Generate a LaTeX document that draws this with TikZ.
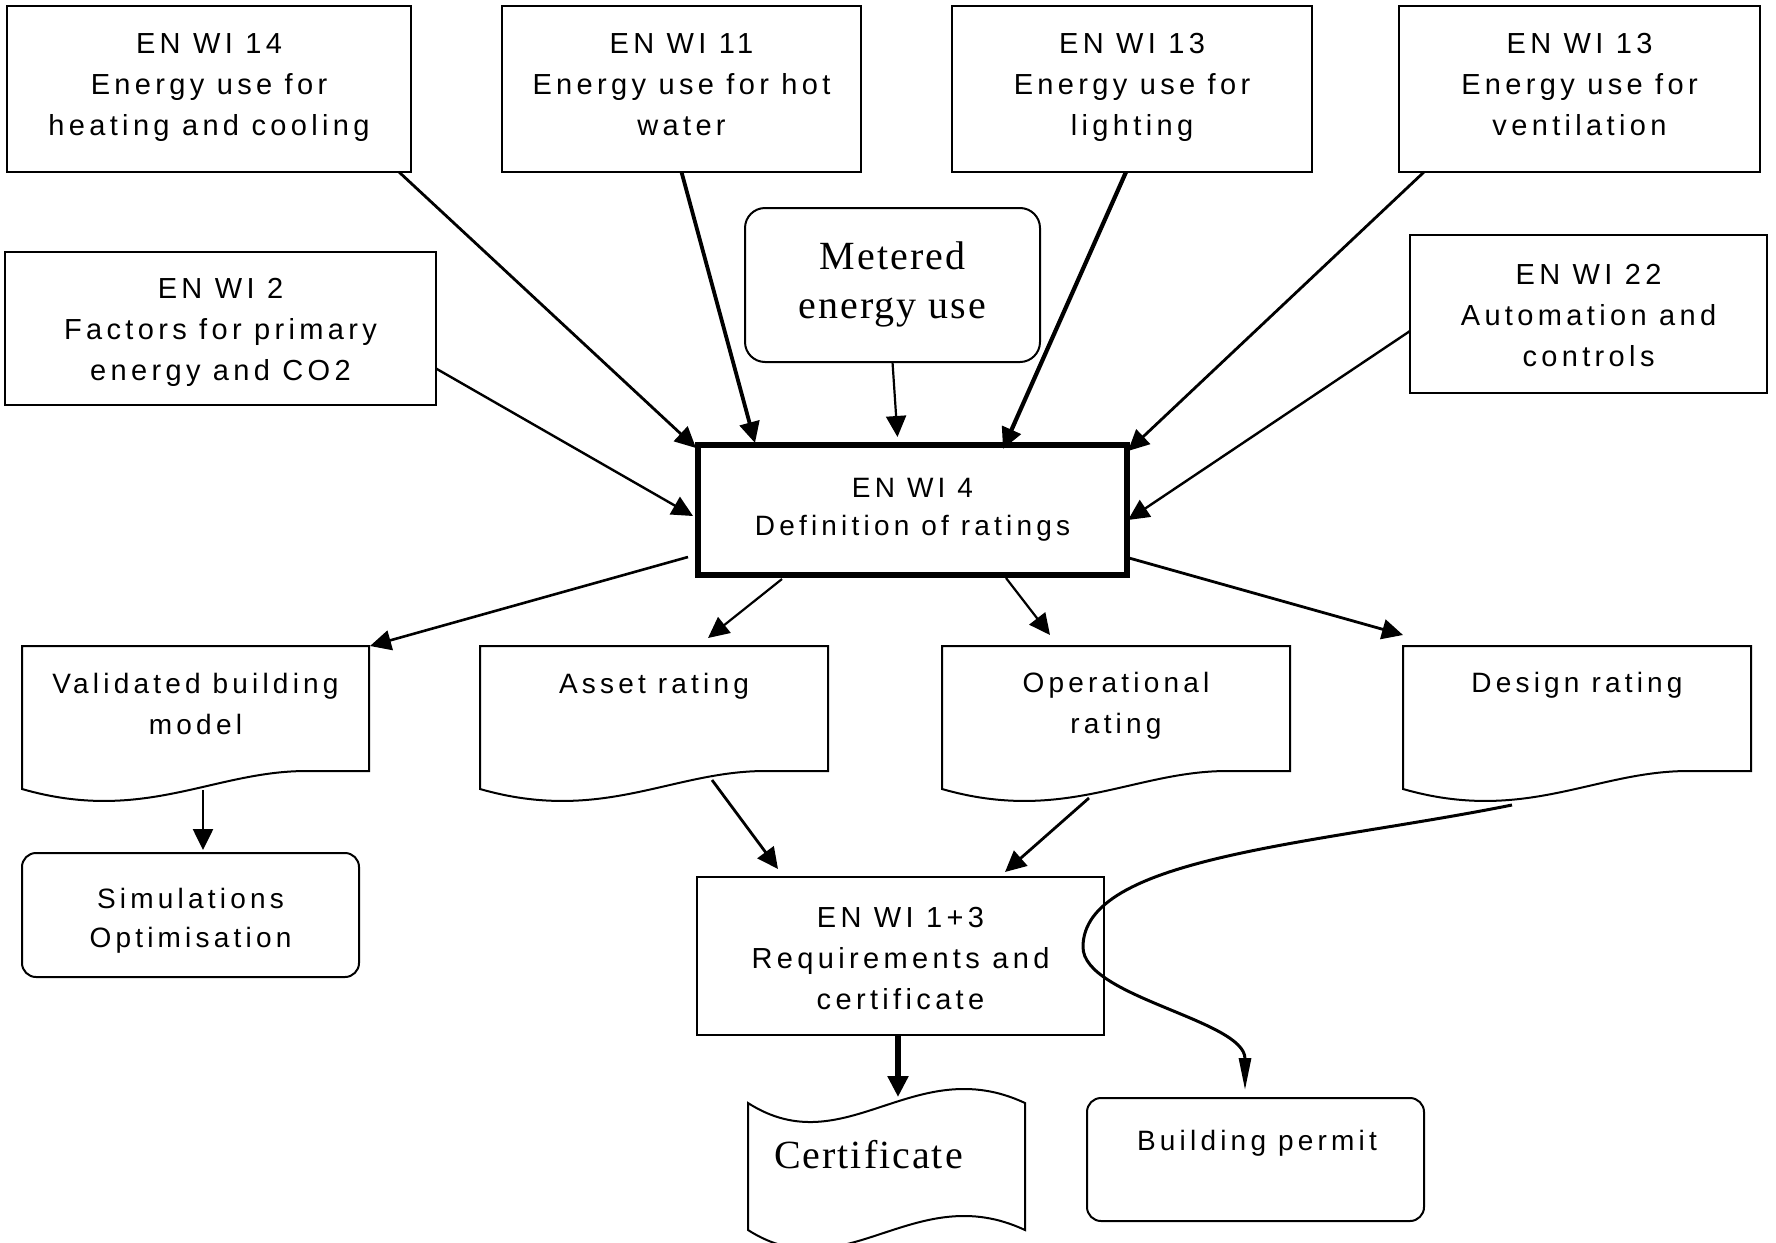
\documentclass[tikz,border=0pt]{standalone}
\usepackage{fontspec}
\newfontfamily\sansf[LetterSpace=15]{Liberation Sans}
\newfontfamily\seriff[LetterSpace=5]{Liberation Serif}
\usetikzlibrary{arrows.meta,calc}
\newcommand\docshape[3]{\draw[line width=1pt,line join=miter] (#1,#2) -- ({#1+#3},#2) -- ({#1+#3},{#2+125}) -- ({#1+0.82*#3},{#2+125}) .. controls ({#1+0.55*#3},{#2+125}) and ({#1+0.35*#3},{#2+178}) .. (#1,{#2+143}) -- cycle;}
\newcommand\toprule{\rule{0pt}{10.5pt}}
\begin{document}
\begin{tikzpicture}[x=0.5pt,y=-0.5pt,
  bigfont/.style={font={\sansf\fontsize{14.5pt}{20.5pt}\selectfont}},
  smallfont/.style={font={\sansf\fontsize{14pt}{20.5pt}\selectfont}},
  box/.style={draw,line width=1pt,rectangle,inner sep=0pt,outer sep=0pt},
  rbox/.style={box,rounded corners=7pt},
  ghost/.style={rectangle,inner sep=0pt,outer sep=0pt,anchor=north west},
  txt/.style={inner sep=0pt,outer sep=0pt,align=center,anchor=north,bigfont},
  stxt/.style={txt,smallfont},
  arr/.style={-{Triangle[length=10.5pt,width=10pt]},line width=1.3pt},
  curvy/.style={-{Triangle[length=16pt,width=6pt]},line width=1.5pt}
]
\fill[white] (0,0) rectangle (1776,1242);
\useasboundingbox (0,0) rectangle (1776,1242);

% top boxes
\node[box,minimum width=202pt,minimum height=83pt] (A) at (209,89) {};
\node[txt] (At) at (209,32.5) {\toprule EN WI 14\\Energy use for\\heating and cooling};
\node[box,minimum width=179.5pt,minimum height=83pt] (B) at (681.5,89) {};
\node[txt] (Bt) at (681.5,32.5) {\toprule EN WI 11\\Energy use for hot\\water};
\node[box,minimum width=180pt,minimum height=83pt] (C) at (1132,89) {};
\node[txt] (Ct) at (1132,32.5) {\toprule EN WI 13\\Energy use for\\lighting};
\node[box,minimum width=180.5pt,minimum height=83pt] (D) at (1579.5,89) {};
\node[txt] (Dt) at (1579.5,32.5) {\toprule EN WI 13\\Energy use for\\ventilation};
\node[box,minimum width=215.5pt,minimum height=76.5pt] (E) at (220.5,328.5) {};
\node[txt] (Et) at (220.5,277) {\toprule EN WI 2\\Factors for primary\\energy and CO2};
\node[rbox,rounded corners=10pt,minimum width=147.5pt,minimum height=77pt] (M) at (892.5,285) {};
\node[txt,font={\seriff\fontsize{20pt}{24.5pt}\selectfont}] (Mt) at (892.5,241) {\rule{0pt}{14pt}Metered\\energy use};
\node[box,minimum width=178.5pt,minimum height=79pt] (F) at (1588.5,314) {};
\node[txt] (Ft) at (1588.5,263) {\toprule EN WI 22\\Automation and\\controls};

% central box
\node[box,line width=3pt,minimum width=214.5pt,minimum height=65pt] (R) at (912.5,510) {};
\node[stxt,font={\sansf\fontsize{14pt}{19pt}\selectfont}] (Rt) at (912.5,476) {\toprule EN WI 4\\Definition of ratings};

% document shapes
\node[ghost,minimum width=173.5pt,minimum height=62.5pt] (V) at (22,646) {};
\docshape{22}{646}{347}
\node[ghost,minimum width=174pt,minimum height=62.5pt] (As) at (480,646) {};
\docshape{480}{646}{348}
\node[ghost,minimum width=174pt,minimum height=62.5pt] (O) at (942,646) {};
\docshape{942}{646}{348}
\node[ghost,minimum width=174pt,minimum height=62.5pt] (Dg) at (1403,646) {};
\docshape{1403}{646}{348}
\node[stxt] (Vt) at (195.5,672) {\toprule Validated building\\model};
\node[stxt,anchor=base] (Ast) at (654,693) {Asset rating};
\node[stxt] (Ot) at (1116,671) {\toprule Operational\\rating};
\node[stxt,anchor=base] (Dgt) at (1577,692) {Design rating};

% lower boxes
\node[rbox,minimum width=168.5pt,minimum height=62pt] (S) at (190.5,915) {};
\node[stxt,font={\sansf\fontsize{14pt}{19.5pt}\selectfont}] (St) at (190.5,887) {\toprule Simulations\\Optimisation};
\node[box,minimum width=203.5pt,minimum height=79pt] (Q) at (900.5,956) {};
\node[txt] (Qt) at (900.5,906.5) {\toprule EN WI 1+3\\Requirements and\\certificate};
\node[rbox,minimum width=168.5pt,minimum height=61.5pt] (BP) at (1255.5,1159.5) {};
\node[stxt,anchor=base] (BPt) at (1257,1150) {Building permit};

% certificate (punched tape)
\node[ghost,minimum width=138.5pt,minimum height=63.5pt] (Ce) at (748,1103) {};
\draw[line width=1pt] (748,1103) .. controls (845,1165) and (914,1051) .. (1025,1103) -- (1025,1230) .. controls (914,1178) and (845,1292) .. (748,1230) -- cycle;
\node[inner sep=0pt,outer sep=0pt,anchor=base west,font={\seriff\fontsize{20pt}{24pt}\selectfont}] (Cet) at (774,1168) {Certificate};

% arrows into the central box
\draw[arr,line width=1.4pt] ($(A.south east)+(-12,0)$) -- ($(R.north west)+(-2,3)$);
\draw[arr,line width=1.9pt] (B.south) -- ($(R.north west)+(57,-2)$);
\draw[arr,line width=1.1pt] (M.south) -- ($(R.north)+(-15,-8)$);
\draw[arr,line width=2.1pt] ($(C.south)+(-6,0)$) -- ($(R.north east)+(-124,4)$);
\draw[arr,line width=1.4pt] ($(D.south west)+(25,0)$) -- ($(R.north east)+(1,6)$);
\draw[arr,line width=1.2pt] ($(F.west)+(0,17)$) -- ($(R.east)+(1,10)$);
\draw[arr,line width=1.2pt] ($(E.east)+(0,40)$) -- ($(R.west)+(-5,6)$);

% arrows out of the central box
\draw[arr,line width=1.3pt] ($(R.south west)+(-10,-18)$) -- ($(V.north east)+(1,0)$);
\draw[arr,line width=1.1pt] ($(R.south west)+(84,4)$) -- ($(As.north)+(54,-8)$);
\draw[arr,line width=1.1pt] ($(R.south)+(93.5,3)$) -- ($(O.north)+(-66,-11)$);
\draw[arr,line width=1.4pt] ($(R.south east)+(2,-17)$) -- ($(Dg.north west)+(0,-11)$);

% lower arrows
\draw[arr] ($(V.south)+(7.5,19)$) -- ($(S.north)+(12.5,-3)$);
\draw[arr,line width=1.4pt] ($(As.south)+(58,9)$) -- ($(Q.north west)+(81,-8)$);
\draw[arr,line width=1.4pt] ($(O.south)+(-27,27)$) -- ($(Q.north east)+(-99,-5)$);
\draw[arr,line width=2.6pt] ($(Q.south)+(-2.5,0)$) -- ($(Ce.north)+(11.5,-6)$);
\draw[curvy] ($(Dg.south)+(-65,34)$) .. controls (1312,845) and (1083,857) .. (1083,947) .. controls (1083,997) and (1245,1020) .. ($(BP.north)+(-10.5,-8)$);
\end{tikzpicture}
\end{document}
